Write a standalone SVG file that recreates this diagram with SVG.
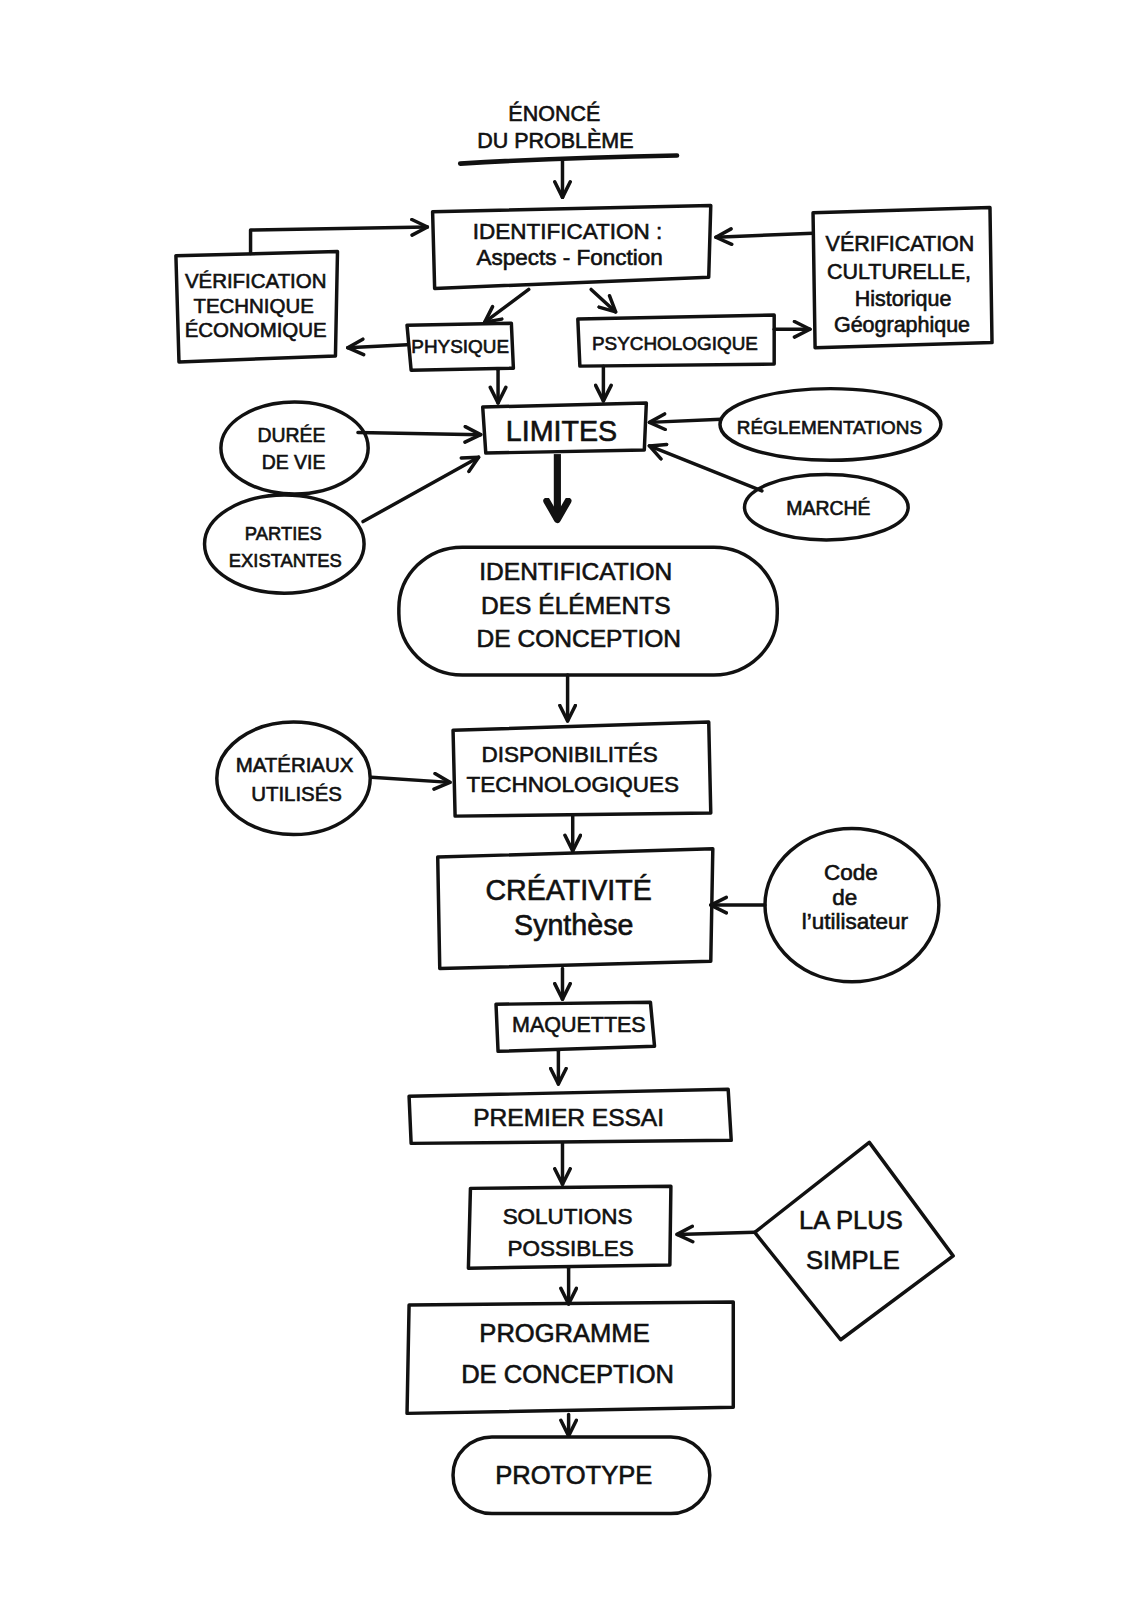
<svg xmlns="http://www.w3.org/2000/svg" width="1127" height="1603" viewBox="0 0 1127 1603">
<style>
.s{fill:none;stroke:#111;stroke-width:3.4;stroke-linejoin:round;stroke-linecap:round}
.c{fill:none;stroke:#111;stroke-width:3.4;stroke-linecap:round;stroke-linejoin:round;marker-end:url(#v)}
text{font-family:"Liberation Sans",Arial,sans-serif;fill:#111;text-anchor:middle;stroke:#111;stroke-width:0.6}
</style>
<defs>
<marker id="v" viewBox="0 0 10 10" refX="9" refY="5" markerWidth="19" markerHeight="19" markerUnits="userSpaceOnUse" orient="auto">
<path d="M1,1 L9,5 L1,9" fill="none" stroke="#111" stroke-width="1.8" stroke-linecap="round" stroke-linejoin="round"/>
</marker>
<marker id="vb" viewBox="0 0 10 10" refX="8" refY="5" markerWidth="26" markerHeight="30" markerUnits="userSpaceOnUse" orient="auto">
<path d="M1,1 L8,5 L1,9" fill="none" stroke="#111" stroke-width="2.6" stroke-linecap="round" stroke-linejoin="round"/>
</marker>
</defs>
<rect width="1127" height="1603" fill="#fff"/>
<g transform="scale(1.0227)">
<g id="connectors">
<path class="s" d="M450,160 Q550,154 662,152" style="stroke-width:4.5"/>
<path class="c" d="M550,157 L550,193"/>
<path class="c" d="M245,248 L245,225 L418,222"/>
<path class="c" d="M795,228 L700,232"/>
<path class="c" d="M517,283 L474,315"/>
<path class="c" d="M578,283 L602,305"/>
<path class="c" d="M398,337 L340,340"/>
<path class="c" d="M757,322 L792,322"/>
<path class="c" d="M487,362 L487,394"/>
<path class="c" d="M590,358 L590,392"/>
<path class="c" d="M350,423 L470,425"/>
<path class="c" d="M355,510 L468,447"/>
<path class="c" d="M705,410 L635,413"/>
<path class="c" d="M745,480 L635,436"/>
<path d="M545,444 L545,508" fill="none" stroke="#111" stroke-width="7" marker-end="url(#vb)"/>
<path class="c" d="M555,660 L555,705"/>
<path class="c" d="M363,760 L440,765"/>
<path class="c" d="M560,798 L560,832"/>
<path class="c" d="M748,885 L695,885"/>
<path class="c" d="M550,947 L550,977"/>
<path class="c" d="M546,1028 L546,1060"/>
<path class="c" d="M550,1118 L550,1158"/>
<path class="c" d="M738,1205 L662,1207"/>
<path class="c" d="M556,1240 L556,1275"/>
<path class="c" d="M556,1383 L556,1404"/>
</g>
<g id="enonce">
<text x="542" y="118" font-size="21">ÉNONCÉ</text>
<text x="543" y="145" font-size="21">DU PROBLÈME</text>
</g>
<g id="identification">
<path class="s" d="M423,207 L695,201 L693,271 L425,282 Z"/>
<text x="555" y="234" font-size="22">IDENTIFICATION :</text>
<text x="557" y="259" font-size="22">Aspects - Fonction</text>
</g>
<g id="verif-tech">
<path class="s" d="M172,250 L330,246 L328,348 L175,354 Z"/>
<text x="250" y="282" font-size="20">VÉRIFICATION</text>
<text x="248" y="306" font-size="20">TECHNIQUE</text>
<text x="250" y="330" font-size="20">ÉCONOMIQUE</text>
</g>
<g id="verif-cult">
<path class="s" d="M795,208 L968,203 L970,335 L797,340 Z"/>
<text x="880" y="245" font-size="21">VÉRIFICATION</text>
<text x="879" y="273" font-size="21">CULTURELLE,</text>
<text x="883" y="299" font-size="21">Historique</text>
<text x="882" y="325" font-size="21">Géographique</text>
</g>
<g id="physique">
<path class="s" d="M398,318 L500,316 L502,360 L402,362 Z"/>
<text x="450" y="345" font-size="18.5">PHYSIQUE</text>
</g>
<g id="psychologique">
<path class="s" d="M565,312 L757,308 L757,356 L567,358 Z"/>
<text x="660" y="342" font-size="18.5">PSYCHOLOGIQUE</text>
</g>
<g id="limites">
<path class="s" d="M472,398 L632,394 L630,440 L475,443 Z"/>
<text x="549" y="431" font-size="28">LIMITES</text>
</g>
<g id="duree">
<ellipse class="s" cx="288" cy="438" rx="72" ry="45"/>
<text x="285" y="432" font-size="19">DURÉE</text>
<text x="287" y="459" font-size="19">DE VIE</text>
</g>
<g id="parties">
<ellipse class="s" cx="278" cy="532" rx="78" ry="48"/>
<text x="277" y="528" font-size="18">PARTIES</text>
<text x="279" y="554" font-size="18">EXISTANTES</text>
</g>
<g id="reglementations">
<ellipse class="s" cx="812" cy="415" rx="108" ry="35"/>
<text x="811" y="424" font-size="18.5">RÉGLEMENTATIONS</text>
</g>
<g id="marche">
<ellipse class="s" cx="808" cy="496" rx="80" ry="32"/>
<text x="810" y="504" font-size="19">MARCHÉ</text>
</g>
<g id="elements">
<rect class="s" x="390" y="535" width="370" height="125" rx="62" ry="60"/>
<text x="563" y="567" font-size="24">IDENTIFICATION</text>
<text x="563" y="600" font-size="24">DES ÉLÉMENTS</text>
<text x="566" y="633" font-size="24">DE CONCEPTION</text>
</g>
<g id="disponibilites">
<path class="s" d="M443,714 L693,706 L695,795 L445,798 Z"/>
<text x="557" y="745" font-size="22">DISPONIBILITÉS</text>
<text x="560" y="774" font-size="22">TECHNOLOGIQUES</text>
</g>
<g id="materiaux">
<ellipse class="s" cx="287" cy="761" rx="75" ry="55"/>
<text x="288" y="755" font-size="20">MATÉRIAUX</text>
<text x="290" y="783" font-size="20">UTILISÉS</text>
</g>
<g id="creativite">
<path class="s" d="M428,838 L697,830 L695,940 L430,947 Z"/>
<text x="556" y="880" font-size="28">CRÉATIVITÉ</text>
<text x="561" y="914" font-size="28">Synthèse</text>
</g>
<g id="code">
<ellipse class="s" cx="833" cy="885" rx="85" ry="75"/>
<text x="832" y="860" font-size="22">Code</text>
<text x="826" y="885" font-size="22">de</text>
<text x="836" y="908" font-size="22">l’utilisateur</text>
</g>
<g id="maquettes">
<path class="s" d="M485,982 L636,980 L640,1023 L487,1028 Z"/>
<text x="566" y="1009" font-size="21">MAQUETTES</text>
</g>
<g id="premier">
<path class="s" d="M400,1072 L712,1065 L715,1115 L402,1118 Z"/>
<text x="556" y="1101" font-size="24">PREMIER ESSAI</text>
</g>
<g id="solutions">
<path class="s" d="M460,1162 L656,1160 L655,1237 L458,1240 Z"/>
<text x="555" y="1197" font-size="22">SOLUTIONS</text>
<text x="558" y="1228" font-size="22">POSSIBLES</text>
</g>
<g id="simple">
<path class="s" d="M850,1117 L932,1228 L822,1310 L738,1205 Z"/>
<text x="832" y="1202" font-size="25">LA PLUS</text>
<text x="834" y="1241" font-size="25">SIMPLE</text>
</g>
<g id="programme">
<path class="s" d="M400,1276 L717,1273 L717,1376 L398,1382 Z"/>
<text x="552" y="1312" font-size="25">PROGRAMME</text>
<text x="555" y="1352" font-size="25">DE CONCEPTION</text>
</g>
<g id="prototype">
<rect class="s" x="443" y="1405" width="251" height="75" rx="38" ry="37"/>
<text x="561" y="1451" font-size="25">PROTOTYPE</text>
</g>
</g>
</svg>
